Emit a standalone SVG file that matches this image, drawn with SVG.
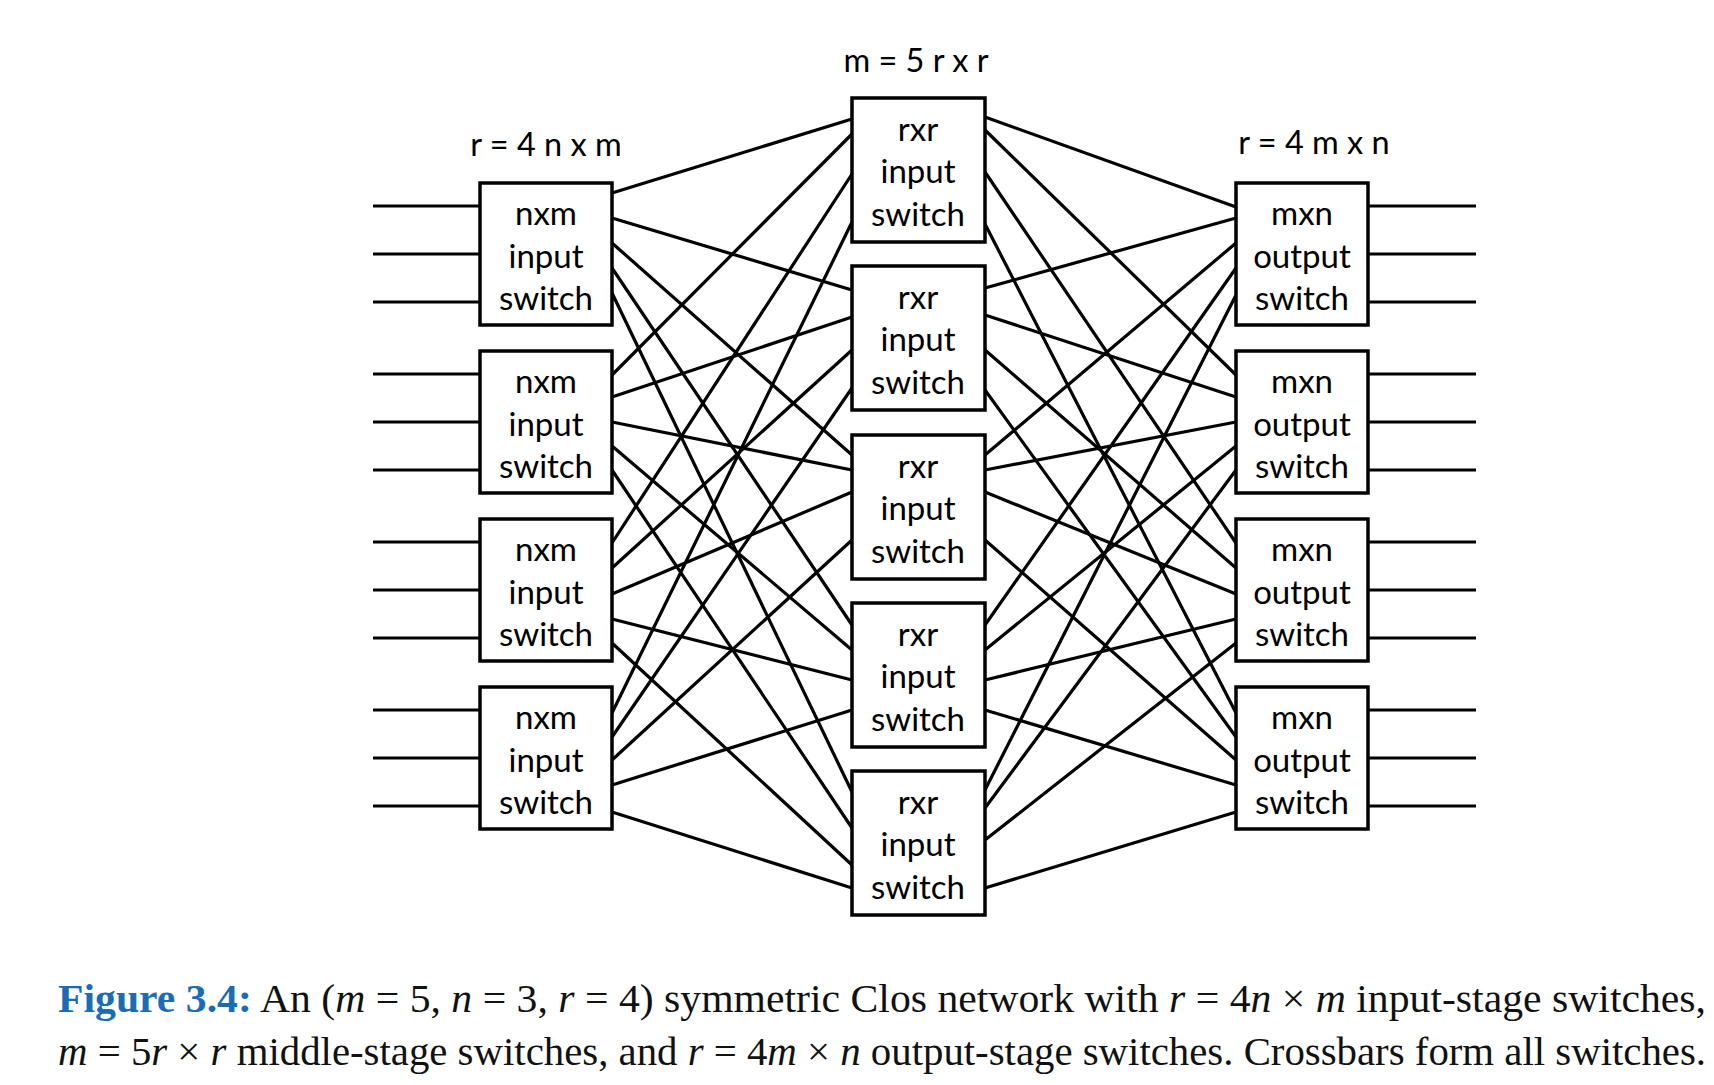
<svg xmlns="http://www.w3.org/2000/svg" width="1714" height="1085" viewBox="0 0 1714 1085">
<style>
.box{fill:#fff;stroke:#000;stroke-width:3.5}
.ln{stroke:#000;stroke-width:3.2;fill:none}
.lbl{font-family:Lato,"Open Sans",sans-serif;font-size:33px;fill:#000;text-anchor:middle}
.hdr{font-family:Lato,"Open Sans",sans-serif;font-size:32.5px;fill:#000;text-anchor:middle}
.cap{font-family:"Liberation Serif",serif;font-size:40px;fill:#111}
.it{font-style:italic}
.fig{fill:#1a6db5;font-weight:bold}
</style>
<rect width="1714" height="1085" fill="#fff"/>
<g id="connectors">
<path class="ln" d="M373,206H480M373,254H480M373,302H480M373,374H480M373,422H480M373,470H480M373,542H480M373,590H480M373,638H480M373,710H480M373,758H480M373,806H480"/>
<path class="ln" d="M1368,206H1476M1368,254H1476M1368,302H1476M1368,374H1476M1368,422H1476M1368,470H1476M1368,542H1476M1368,590H1476M1368,638H1476M1368,710H1476M1368,758H1476M1368,806H1476"/>
<path class="ln" d="M612,193L852,119M612,218L852,290M612,243L852,455M612,268L852,625M612,293L852,792"/>
<path class="ln" d="M612,375L852,134M612,397L852,317M612,422L852,470M612,446L852,650M612,470L852,828"/>
<path class="ln" d="M612,543L852,174M612,568L852,350M612,594L852,492M612,619L852,680M612,643L852,865"/>
<path class="ln" d="M612,713L852,222M612,737L852,388M612,760L852,540M612,785L852,710M612,812L852,888"/>
<path class="ln" d="M985,117L1236,207M985,130L1236,375M985,172L1236,543M985,224L1236,713"/>
<path class="ln" d="M985,288L1236,218M985,315L1236,397M985,350L1236,568M985,390L1236,737"/>
<path class="ln" d="M985,455L1236,243M985,470L1236,422M985,492L1236,594M985,540L1236,760"/>
<path class="ln" d="M985,625L1236,268M985,650L1236,446M985,680L1236,619M985,710L1236,785"/>
<path class="ln" d="M985,790L1236,295M985,808L1236,470M985,840L1236,643M985,888L1236,812"/>
</g>
<g id="in1"><rect class="box" x="480" y="183" width="132" height="142"/><text class="lbl" x="546" y="225">nxm</text><text class="lbl" x="546" y="268">input</text><text class="lbl" x="546" y="310">switch</text></g>
<g id="in2"><rect class="box" x="480" y="351" width="132" height="142"/><text class="lbl" x="546" y="393">nxm</text><text class="lbl" x="546" y="436">input</text><text class="lbl" x="546" y="478">switch</text></g>
<g id="in3"><rect class="box" x="480" y="519" width="132" height="142"/><text class="lbl" x="546" y="561">nxm</text><text class="lbl" x="546" y="604">input</text><text class="lbl" x="546" y="646">switch</text></g>
<g id="in4"><rect class="box" x="480" y="687" width="132" height="142"/><text class="lbl" x="546" y="729">nxm</text><text class="lbl" x="546" y="772">input</text><text class="lbl" x="546" y="814">switch</text></g>
<g id="mid1"><rect class="box" x="852" y="98" width="133" height="144"/><text class="lbl" x="918" y="141">rxr</text><text class="lbl" x="918" y="183">input</text><text class="lbl" x="918" y="226">switch</text></g>
<g id="mid2"><rect class="box" x="852" y="266" width="133" height="144"/><text class="lbl" x="918" y="309">rxr</text><text class="lbl" x="918" y="351">input</text><text class="lbl" x="918" y="394">switch</text></g>
<g id="mid3"><rect class="box" x="852" y="435" width="133" height="144"/><text class="lbl" x="918" y="478">rxr</text><text class="lbl" x="918" y="520">input</text><text class="lbl" x="918" y="563">switch</text></g>
<g id="mid4"><rect class="box" x="852" y="603" width="133" height="144"/><text class="lbl" x="918" y="646">rxr</text><text class="lbl" x="918" y="688">input</text><text class="lbl" x="918" y="731">switch</text></g>
<g id="mid5"><rect class="box" x="852" y="771" width="133" height="144"/><text class="lbl" x="918" y="814">rxr</text><text class="lbl" x="918" y="856">input</text><text class="lbl" x="918" y="899">switch</text></g>
<g id="out1"><rect class="box" x="1236" y="183" width="132" height="142"/><text class="lbl" x="1302" y="225">mxn</text><text class="lbl" x="1302" y="268">output</text><text class="lbl" x="1302" y="310">switch</text></g>
<g id="out2"><rect class="box" x="1236" y="351" width="132" height="142"/><text class="lbl" x="1302" y="393">mxn</text><text class="lbl" x="1302" y="436">output</text><text class="lbl" x="1302" y="478">switch</text></g>
<g id="out3"><rect class="box" x="1236" y="519" width="132" height="142"/><text class="lbl" x="1302" y="561">mxn</text><text class="lbl" x="1302" y="604">output</text><text class="lbl" x="1302" y="646">switch</text></g>
<g id="out4"><rect class="box" x="1236" y="687" width="132" height="142"/><text class="lbl" x="1302" y="729">mxn</text><text class="lbl" x="1302" y="772">output</text><text class="lbl" x="1302" y="814">switch</text></g>
<g id="labels">
<text class="hdr" x="546" y="156">r = 4 n x m</text>
<text class="hdr" x="916" y="72">m = 5 r x r</text>
<text class="hdr" x="1314" y="154">r = 4 m x n</text>
</g>
<g id="caption">
<text class="cap" x="58" y="1012" textLength="1648" lengthAdjust="spacingAndGlyphs"><tspan class="fig">Figure 3.4:</tspan>  An (<tspan class="it">m</tspan> = 5, <tspan class="it">n</tspan> = 3, <tspan class="it">r</tspan> = 4) symmetric Clos network with <tspan class="it">r</tspan> = 4<tspan class="it">n</tspan> × <tspan class="it">m</tspan> input-stage switches,</text>
<text class="cap" x="58" y="1065" textLength="1648" lengthAdjust="spacingAndGlyphs"><tspan class="it">m</tspan> = 5<tspan class="it">r</tspan> × <tspan class="it">r</tspan> middle-stage switches, and <tspan class="it">r</tspan> = 4<tspan class="it">m</tspan> × <tspan class="it">n</tspan> output-stage switches. Crossbars form all switches.</text>
</g>
</svg>
